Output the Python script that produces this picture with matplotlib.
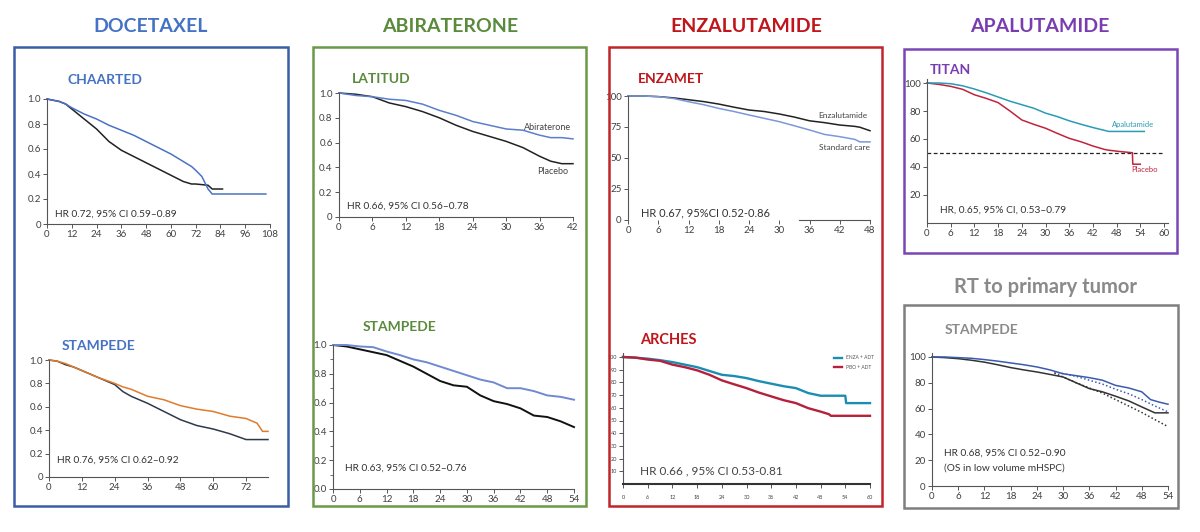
import matplotlib
matplotlib.use('Agg')
import matplotlib.pyplot as plt
from matplotlib.patches import Rectangle

plt.rcParams['font.family'] = ['Lato', 'DejaVu Sans']

# ---------------- data ----------------
drug_headers = ['DOCETAXEL', 'ABIRATERONE', 'ENZALUTAMIDE', 'APALUTAMIDE']
rt_header = 'RT to primary tumor'

# CHAARTED (docetaxel vs ADT)
chaarted_t_doc = [0, 3, 6, 9, 12, 18, 24, 30, 36, 42, 48, 54, 60, 66, 70, 72, 75, 78, 80, 106]
chaarted_s_doc = [1.0, 0.99, 0.98, 0.96, 0.93, 0.88, 0.84, 0.79, 0.75, 0.71, 0.66, 0.61, 0.56, 0.50, 0.46, 0.43, 0.38, 0.28, 0.24, 0.24]
chaarted_t_adt = [0, 3, 6, 9, 12, 15, 18, 24, 30, 36, 42, 48, 54, 60, 66, 70, 72, 78, 80, 85]
chaarted_s_adt = [1.0, 0.99, 0.98, 0.96, 0.92, 0.88, 0.84, 0.76, 0.66, 0.59, 0.54, 0.49, 0.44, 0.39, 0.34, 0.32, 0.32, 0.31, 0.28, 0.28]

# STAMPEDE docetaxel
stdoc_t = [0, 3, 6, 9, 12, 18, 24, 27, 30, 36, 42, 48, 54, 60, 66, 72, 76, 78, 80]
stdoc_s_doc = [1.0, 0.99, 0.97, 0.94, 0.91, 0.85, 0.80, 0.77, 0.75, 0.69, 0.66, 0.61, 0.58, 0.56, 0.52, 0.50, 0.46, 0.39, 0.39]
stdoc_s_soc = [1.0, 0.99, 0.96, 0.94, 0.91, 0.85, 0.79, 0.73, 0.69, 0.63, 0.56, 0.49, 0.44, 0.41, 0.37, 0.32, 0.32, 0.32, 0.32]

# LATITUD
lat_t = [0, 3, 6, 9, 12, 15, 18, 21, 24, 27, 30, 33, 36, 38, 40, 42]
lat_abi = [1.0, 0.98, 0.97, 0.95, 0.94, 0.91, 0.86, 0.82, 0.77, 0.74, 0.71, 0.70, 0.66, 0.64, 0.64, 0.63]
lat_pbo = [1.0, 0.99, 0.97, 0.92, 0.89, 0.85, 0.80, 0.74, 0.69, 0.65, 0.61, 0.56, 0.49, 0.45, 0.43, 0.43]

# STAMPEDE abiraterone
stabi_t = [0, 3, 6, 9, 12, 15, 18, 21, 24, 27, 30, 33, 36, 39, 42, 45, 48, 51, 54]
stabi_abi = [1.0, 1.0, 0.99, 0.985, 0.955, 0.93, 0.90, 0.88, 0.85, 0.82, 0.79, 0.76, 0.74, 0.70, 0.70, 0.68, 0.65, 0.64, 0.62]
stabi_soc = [1.0, 0.99, 0.97, 0.95, 0.93, 0.89, 0.85, 0.80, 0.75, 0.72, 0.71, 0.65, 0.61, 0.59, 0.56, 0.51, 0.50, 0.47, 0.43]

# ENZAMET
enzamet_t = [0, 3, 6, 9, 12, 15, 18, 21, 24, 27, 30, 33, 36, 39, 42, 45, 46, 48]
enzamet_enza = [100, 100, 99.5, 98.5, 97, 95.5, 93.5, 91, 88.7, 87.5, 85.5, 83, 80, 78.5, 76.6, 75.5, 74.8, 72]
enzamet_soc = [100, 100, 99.5, 98, 95.4, 93, 90, 87.5, 84.7, 82, 79.3, 76, 72.6, 69, 67.2, 65, 63, 63]

# ARCHES
arches_t_enza = [0, 3, 6, 9, 12, 15, 18, 21, 24, 27, 30, 33, 36, 39, 42, 45, 48, 54, 54.2, 60]
arches_s_enza = [100, 99.5, 98.7, 97.5, 96, 94, 92, 89, 86, 85, 83.4, 81, 79, 77, 75.5, 71.6, 69.5, 69.5, 63.7, 63.7]
arches_t_pbo = [0, 3, 6, 9, 12, 15, 18, 21, 24, 27, 30, 33, 36, 39, 42, 45, 48, 50, 50.5, 60]
arches_s_pbo = [100, 99.5, 98, 97, 94, 92, 89.5, 86, 81.6, 78.5, 75.5, 72, 69, 66, 63.7, 59.7, 57, 55, 53.7, 53.7]

# TITAN
titan_t_apa = [0, 3, 6, 9, 12, 15, 18, 21, 24, 27, 30, 33, 36, 39, 42, 46, 55]
titan_s_apa = [100, 100, 99.5, 98, 95.7, 93, 90, 87, 84.5, 82, 78.5, 76, 73, 70.5, 68.2, 65.4, 65.4]
titan_t_pbo = [0, 3, 6, 9, 12, 15, 18, 21, 24, 27, 30, 33, 36, 39, 42, 45, 46, 49, 52, 52.1, 54]
titan_s_pbo = [100, 99, 97.6, 95.5, 91.6, 89, 86, 80, 73.6, 70.5, 67.7, 64, 60.5, 58, 55, 52.5, 52, 51, 50.2, 42, 42]
titan_median = 50

# STAMPEDE RT
strt_t_rt = [0, 3, 6, 9, 12, 15, 18, 21, 24, 27, 30, 33, 36, 39, 42, 45, 48, 50, 52, 54]
strt_s_rt = [100, 100, 99.5, 99, 98, 96.8, 95.4, 94, 92.3, 90, 87, 85.5, 84, 82, 78, 76, 73, 67, 65, 63.4]
strt_t_soc = [0, 3, 6, 9, 12, 15, 18, 21, 24, 27, 30, 33, 36, 39, 42, 45, 48, 51, 54]
strt_s_soc = [100, 99.5, 98.7, 97.5, 96, 94, 91.8, 90, 88.4, 86.5, 84.5, 80, 75.5, 73, 69.6, 66, 61.3, 56.7, 56.7]
strt_fit_t = [28, 33, 36, 39, 42, 45, 48, 51, 54]
strt_fit_rt = [88.5, 85, 82, 79, 75, 71.5, 67, 62, 57.5]
strt_fit_soc = [87.5, 80, 76, 72, 67, 62, 57, 51.5, 46]

# ---------------- figure ----------------
W, H = 1200, 532
fig = plt.figure(figsize=(W / 100, H / 100), dpi=100)
fig.patch.set_facecolor('white')


def fx(x):
    return x / W


def fy(y):
    return 1 - y / H


TICK_C = '#404040'


def add_panel(px0, px1, py0, py1, xlim, ylim, xticks, yticks, ylabels=None,
              xbounds=None, ybounds=None, labelsize=7):
    ax = fig.add_axes([fx(px0), fy(py0), (px1 - px0) / W, (py0 - py1) / H])
    ax.set_xlim(*xlim)
    ax.set_ylim(*ylim)
    ax.patch.set_alpha(0)
    for s in ['top', 'right']:
        ax.spines[s].set_visible(False)
    for s in ['left', 'bottom']:
        ax.spines[s].set_color('#555555')
        ax.spines[s].set_linewidth(0.8)
    ax.spines['bottom'].set_bounds(*(xbounds if xbounds else xlim))
    ax.spines['left'].set_bounds(*(ybounds if ybounds else ylim))
    ax.set_xticks(xticks)
    ax.set_yticks(yticks)
    if ylabels is not None:
        ax.set_yticklabels(ylabels)
    ax.tick_params(length=3, width=0.7, colors='#555555', labelcolor=TICK_C,
                   labelsize=labelsize, pad=1.5)
    return ax


def ftext(x, y, s, **kw):
    kw.setdefault('va', 'center')
    fig.text(fx(x), fy(y), s, **kw)


# boxes
boxes = [
    (14, 47, 288, 506, '#3B5DA6'),
    (313, 47, 586, 506, '#6A9A48'),
    (609, 47, 882, 506, '#C0252B'),
    (904, 49, 1177, 253, '#7A45B5'),
    (904, 305, 1178, 508, '#7F7F7F'),
]
for x0, y0, x1, y1, c in boxes:
    fig.patches.append(Rectangle((fx(x0), fy(y1)), (x1 - x0) / W, (y1 - y0) / H,
                                 transform=fig.transFigure, fill=False,
                                 edgecolor=c, linewidth=1.8))

# headers
hdr_cols = ['#4472C4', '#5A8A3C', '#C0151B', '#7A3DB0']
hdr_x = [151, 450, 746, 1040]
for s, c, x in zip(drug_headers, hdr_cols, hdr_x):
    ftext(x, 27, s, ha='center', fontsize=14, fontweight='bold', color=c)
ftext(1045, 287, rt_header, ha='center', fontsize=14.5, fontweight='bold', color='#8A8A8A')

sub_kw = dict(fontsize=10, fontweight='bold', ha='left')
hr_kw = dict(fontsize=7.3, ha='left', color='#333333')

# ---- CHAARTED ----
ax = add_panel(47, 270, 224, 99, (0, 108), (0, 1.0), list(range(0, 109, 12)),
               [0, 0.2, 0.4, 0.6, 0.8, 1.0], ['0', '0.2', '0.4', '0.6', '0.8', '1.0'])
ax.plot(chaarted_t_adt, chaarted_s_adt, color='#222222', lw=1.1, clip_on=False)
ax.plot(chaarted_t_doc, chaarted_s_doc, color='#4A72C4', lw=1.1, clip_on=False)
ftext(67, 80, 'CHAARTED', color='#4472C4', **sub_kw)
ftext(55, 214, 'HR 0.72, 95% CI 0.59–0.89', **hr_kw)

# ---- STAMPEDE docetaxel ----
ax = add_panel(49, 268, 477, 360, (0, 80), (0, 1.0), list(range(0, 73, 12)),
               [0, 0.2, 0.4, 0.6, 0.8, 1.0], ['0', '0.2', '0.4', '0.6', '0.8', '1.0'])
ax.plot(stdoc_t, stdoc_s_soc, color='#2D3A4A', lw=1.1, clip_on=False)
ax.plot(stdoc_t, stdoc_s_doc, color='#E07B2C', lw=1.1, clip_on=False)
ftext(62, 346, 'STAMPEDE', color='#4472C4', **sub_kw)
ftext(57, 460, 'HR 0.76, 95% CI 0.62–0.92', **hr_kw)

# ---- LATITUD ----
ax = add_panel(339, 573, 217, 93, (0, 42), (0, 1.0), list(range(0, 43, 6)),
               [0, 0.2, 0.4, 0.6, 0.8, 1.0], ['0', '0.2', '0.4', '0.6', '0.8', '1.0'])
ax.plot(lat_t, lat_pbo, color='#222222', lw=1.1, clip_on=False)
ax.plot(lat_t, lat_abi, color='#5B7FCC', lw=1.1, clip_on=False)
ftext(352, 79, 'LATITUD', color='#5A8A3C', **sub_kw)
ftext(347, 206, 'HR 0.66, 95% CI 0.56–0.78', **hr_kw)
ftext(571, 127, 'Abiraterone', ha='right', fontsize=6.5, color='#444444')
ftext(568, 172, 'Placebo', ha='right', fontsize=6.5, color='#444444')

# ---- STAMPEDE abiraterone ----
ax = add_panel(333, 574, 489, 345, (0, 54), (0, 1.0), list(range(0, 55, 6)),
               [0, 0.2, 0.4, 0.6, 0.8, 1.0], ['0.0', '0.2', '0.4', '0.6', '0.8', '1.0'])
ax.set_yticks([0.1, 0.3, 0.5, 0.7, 0.9], minor=True)
ax.tick_params(which='minor', length=2, width=0.6, colors='#555555')
ax.plot(stabi_t, stabi_soc, color='#111111', lw=1.4, clip_on=False)
ax.plot(stabi_t, stabi_abi, color='#6F8AD0', lw=1.4, clip_on=False)
ftext(363, 327, 'STAMPEDE', color='#5A8A3C', **sub_kw)
ftext(345, 468, 'HR 0.63, 95% CI 0.52–0.76', **hr_kw)

# ---- ENZAMET ----
ax = add_panel(628, 870, 220, 96, (0, 48), (0, 100), list(range(0, 49, 6)),
               [0, 25, 50, 75, 100], xbounds=(34, 48))
ax.plot(enzamet_t, enzamet_enza, color='#222222', lw=1.1, clip_on=False)
ax.plot(enzamet_t, enzamet_soc, color='#7C98D6', lw=1.1, clip_on=False)
ftext(638, 79, 'ENZAMET', color='#C0151B', **sub_kw)
ftext(641, 213, 'HR 0.67, 95%CI 0.52-0.86', fontsize=8, ha='left', color='#333333')
ftext(867, 116, 'Enzalutamide', ha='right', fontsize=6, color='#444444')
ftext(870, 148, 'Standard care', ha='right', fontsize=6, color='#444444')

# ---- ARCHES ----
ax = add_panel(623, 870, 484, 357, (0, 60), (0, 100), list(range(0, 61, 6)),
               list(range(10, 101, 10)), ybounds=(0, 103), labelsize=4)
ax.spines['bottom'].set_linewidth(1.5)
ax.spines['bottom'].set_color('#333333')
ax.tick_params(axis='x', pad=5)
ax.plot(arches_t_enza, arches_s_enza, color='#1B8DB3', lw=1.7, clip_on=False,
        label='ENZA + ADT')
ax.plot(arches_t_pbo, arches_s_pbo, color='#B5203A', lw=1.7, clip_on=False,
        label='PBO + ADT')
ax.legend(loc='upper right', bbox_to_anchor=(fx(878), fy(351)),
          bbox_transform=fig.transFigure, fontsize=3.5, frameon=False,
          handlelength=1.6, labelspacing=0.9, labelcolor='#555555')
ftext(640, 340, 'ARCHES', color='#C0151B', fontsize=10.5, fontweight='bold', ha='left')
ftext(640, 471, 'HR 0.66 , 95% CI 0.53-0.81', fontsize=8.5, ha='left', color='#444444')

# ---- TITAN ----
ax = add_panel(927, 1164, 223, 83, (0, 60), (0, 100), list(range(0, 61, 6)),
               [20, 40, 60, 80, 100], xbounds=(0, 61), ybounds=(0, 103))
ax.axhline(titan_median, color='#222222', lw=0.9, ls=(0, (3, 2)))
ax.plot(titan_t_pbo, titan_s_pbo, color='#C0243C', lw=1.1, clip_on=False)
ax.plot(titan_t_apa, titan_s_apa, color='#2A9BB5', lw=1.1, clip_on=False)
ftext(930, 70, 'TITAN', color='#7A3DB0', **sub_kw)
ftext(940, 210, 'HR, 0.65, 95% CI, 0.53–0.79', **hr_kw)
ftext(1112, 125, 'Apalutamide', ha='left', fontsize=5.5, color='#2A9BB5')
ftext(1131, 170, 'Placebo', ha='left', fontsize=5.5, color='#C0243C')

# ---- STAMPEDE RT ----
ax = add_panel(932, 1168, 486, 357, (0, 54), (0, 100), list(range(0, 55, 6)),
               [0, 20, 40, 60, 80, 100], ybounds=(0, 103))
ax.plot(strt_t_soc, strt_s_soc, color='#333333', lw=1.1, clip_on=False)
ax.plot(strt_t_rt, strt_s_rt, color='#3B5BAF', lw=1.1, clip_on=False)
ax.plot(strt_fit_t, strt_fit_rt, color='#3B5BAF', lw=1.1, ls=(0, (1, 1.5)), clip_on=False)
ax.plot(strt_fit_t, strt_fit_soc, color='#333333', lw=1.1, ls=(0, (1, 1.5)), clip_on=False)
ftext(945, 330, 'STAMPEDE', color='#8A8A8A', **sub_kw)
ftext(944, 453, 'HR 0.68, 95% CI 0.52–0.90', **hr_kw)
ftext(944, 468, '(OS in low volume mHSPC)', **hr_kw)

fig.savefig('out.png', dpi=100, facecolor='white')
